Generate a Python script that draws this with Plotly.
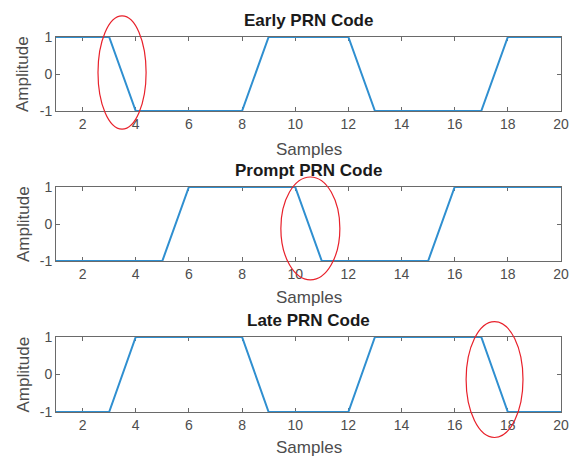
import plotly.graph_objects as go

samples = list(range(1, 21))
early = [1, 1, 1, -1, -1, -1, -1, -1, 1, 1, 1, 1, -1, -1, -1, -1, -1, 1, 1, 1]
prompt = [-1, -1, -1, -1, -1, 1, 1, 1, 1, 1, -1, -1, -1, -1, -1, 1, 1, 1, 1, 1]
late = [-1, -1, -1, 1, 1, 1, 1, 1, -1, -1, -1, -1, 1, 1, 1, 1, 1, -1, -1, -1]
titles = ["Early PRN Code", "Prompt PRN Code", "Late PRN Code"]
x_ticks = [2, 4, 6, 8, 10, 12, 14, 16, 18, 20]
y_ticks = [-1, 0, 1]
y_ticktext = ["-1", "0", "1"]
# highlighted regions (data units): x0, x1, y0, y1
ellipses = [(2.58, 4.39, -1.49, 1.57), (9.46, 11.68, -1.51, 1.27), (16.43, 18.57, -1.68, 1.41)]

W, H = 578, 456
xdom = [56 / W, 561 / W]
ydoms = [[1 - 111 / H, 1 - 37 / H], [1 - 261 / H, 1 - 187 / H], [1 - 412 / H, 1 - 337 / H]]
label_gap = [38, 37, 35]
XR = [1, 20]
YR = [-1, 1]

font = "Liberation Sans, Arial, Helvetica, sans-serif"
axcol = "#6a6a6a"
tickcol = "#4d4d4d"
linecol = "#2f8fd0"

fig = go.Figure()
series = [early, prompt, late]
for i, ys in enumerate(series):
    n = "" if i == 0 else str(i + 1)
    fig.add_trace(go.Scatter(x=samples, y=ys, mode="lines", line=dict(color=linecol, width=2),
                             xaxis="x" + n, yaxis="y" + n, showlegend=False, hoverinfo="skip"))
    common = dict(showgrid=False, zeroline=False, showline=True, linecolor=axcol, linewidth=1,
                  mirror="ticks", ticks="inside", ticklen=4, tickcolor=axcol, layer="below traces",
                  tickfont=dict(family=font, size=14, color=tickcol), automargin=False)
    fig.layout["xaxis" + n] = dict(domain=xdom, range=XR, tickvals=x_ticks, anchor="y" + n, **common)
    fig.layout["yaxis" + n] = dict(domain=ydoms[i], range=YR, tickvals=y_ticks, ticktext=y_ticktext,
                                   anchor="x" + n, **common)

def px(v, i):
    return xdom[0] + (v - XR[0]) / (XR[1] - XR[0]) * (xdom[1] - xdom[0])

def py(v, i):
    d = ydoms[i]
    return d[0] + (v - YR[0]) / (YR[1] - YR[0]) * (d[1] - d[0])

shapes = []
annotations = []
for i in range(3):
    d = ydoms[i]
    x0, x1, y0, y1 = ellipses[i]
    shapes.append(dict(type="circle", xref="paper", yref="paper",
                       x0=px(x0, i), x1=px(x1, i), y0=py(y0, i), y1=py(y1, i),
                       line=dict(color="#e8212b", width=1.2), layer="above"))
    annotations.append(dict(text="<b>" + titles[i] + "</b>", xref="paper", yref="paper",
                            x=(xdom[0] + xdom[1]) / 2, y=d[1] + 17 / H, xanchor="center", yanchor="middle",
                            showarrow=False, font=dict(family=font, size=17, color="#1a1a1a")))
    annotations.append(dict(text="Samples", xref="paper", yref="paper",
                            x=(xdom[0] + xdom[1]) / 2, y=d[0] - label_gap[i] / H, xanchor="center", yanchor="middle",
                            showarrow=False, font=dict(family=font, size=17, color=tickcol)))
    annotations.append(dict(text="Amplitude", xref="paper", yref="paper", textangle=-90,
                            x=23 / W, y=(d[0] + d[1]) / 2, xanchor="center", yanchor="middle",
                            showarrow=False, font=dict(family=font, size=17, color=tickcol)))

fig.update_layout(width=W, height=H, margin=dict(l=0, r=0, t=0, b=0),
                  paper_bgcolor="white", plot_bgcolor="white",
                  shapes=shapes, annotations=annotations)

fig.write_html("out.html")
